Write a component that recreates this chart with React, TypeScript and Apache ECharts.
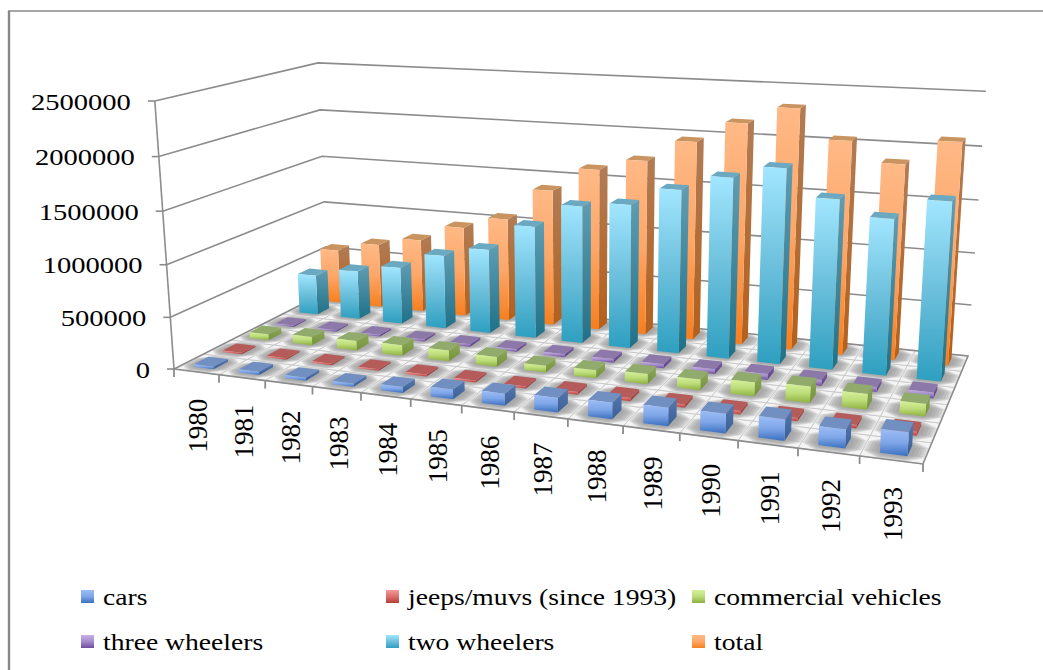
import React, { useEffect, useRef } from "react";
import * as echarts from "echarts";

// Annual Indian motor vehicle output, 1980-1993, as a perspective bar block.
const years = ["1980","1981","1982","1983","1984","1985","1986","1987","1988","1989","1990","1991","1992","1993"];
const yTicks = [0, 500000, 1000000, 1500000, 2000000, 2500000];
const cars = [25000,30000,30000,30000,55000,90000,110000,130000,146000,163000,170000,185000,160000,200000];
const jeeps = [15000,15000,15000,15000,20000,20000,20000,25000,30000,30000,30000,30000,30000,35000];
const commercial = [60000,85000,95000,105000,105000,95000,65000,75000,95000,100000,130000,150000,140000,110000];
const threeWheelers = [15000,16000,18000,20000,25000,25000,30000,35000,40000,45000,55000,55000,45000,55000];
const twoWheelers = [415000,504000,582000,749000,850000,1121000,1358000,1406000,1583000,1730000,1850000,1598000,1455000,1648000];
const totals = [570000,670000,760000,930000,1055000,1382000,1623000,1740000,1954000,2155000,2320000,2044000,1858000,2090000];

const W = 1043;
const H = 670;
const ROWS = 6;
const BAR_W = 0.44;
const BAR_D = 0.5;
const GREY = "#8c8c8c";
const SERIF = "Liberation Serif";

type Pt = [number, number];
type Quad = [Pt, Pt, Pt, Pt];

// Floor corners in the order front-left, front-right, back-right, back-left.
const floorQuad: Quad = [[174, 369], [923, 464], [968, 356], [328, 291]];
// Tops of the walls, with the floor position (u, v) each stands on.
const wallTops: [number, number, number, number][] = [
  [157, 102, 0, 0],
  [316, 58, 0, 1],
  [986, 96, 1, 1],
];

// Projective camera: the floor homography, extended along the value axis.
function buildCamera(q: Quad) {
  const [[x0, y0], [x1, y1], [x2, y2], [x3, y3]] = q;
  const dx1 = x1 - x2, dx2 = x3 - x2, dx3 = x0 - x1 + x2 - x3;
  const dy1 = y1 - y2, dy2 = y3 - y2, dy3 = y0 - y1 + y2 - y3;
  const den = dx1 * dy2 - dx2 * dy1;
  const g = (dx3 * dy2 - dx2 * dy3) / den;
  const h = (dx1 * dy3 - dx3 * dy1) / den;
  const a = x1 - x0 + g * x1, b = x3 - x0 + h * x3;
  const d = y1 - y0 + g * y1, e = y3 - y0 + h * y3;

  // Least squares for the three value-axis terms, from the wall tops.
  const rows = wallTops.map(([X, Y, u, v]) => {
    const n = g * u + h * v + 1;
    return { X, Y, rx: a * u + b * v + x0 - X * n, ry: d * u + e * v + y0 - Y * n };
  });
  const mean = (f: (r: any) => number) => rows.reduce((s, r) => s + f(r), 0) / rows.length;
  const mX = mean((r) => r.X), mY = mean((r) => r.Y), mRx = mean((r) => r.rx), mRy = mean((r) => r.ry);
  let num = 0, dn = 0;
  rows.forEach((r) => {
    num += (r.X - mX) * (r.rx - mRx) + (r.Y - mY) * (r.ry - mRy);
    dn += (r.X - mX) ** 2 + (r.Y - mY) ** 2;
  });
  const i = num / dn;
  const cx = mX * i - mRx;
  const cy = mY * i - mRy;
  return (u: number, v: number, w: number): Pt => {
    const n = g * u + h * v + i * w + 1;
    return [(a * u + b * v + cx * w + x0) / n, (d * u + e * v + cy * w + y0) / n];
  };
}
// u: along the years, v: depth through the rows, w: share of the value axis.
const project = buildCamera(floorQuad);

const vGrad = (stops: string[]) => ({
  type: "linear", x: 0, y: 0, x2: 0, y2: 1,
  colorStops: stops.map((color, i) => ({ offset: i / (stops.length - 1), color })),
});

const palettes = {
  total: { front: ["#ffb986", "#fda769", "#f67f1f"], side: ["#b17c55", "#b3601c"], top: "#c9945f" },
  two: { front: ["#a2e6ff", "#6cc0dc", "#2e9fc0"], side: ["#5f9db3", "#1f7188"], top: "#6aa9c1" },
  three: { front: ["#c7b0e6", "#a58bcb", "#6d4c9c"], side: ["#7a5da0", "#5f4488"], top: "#8d79a9" },
  commercial: { front: ["#d6f19b", "#bcdc78", "#8db041"], side: ["#8ea85a", "#73923a"], top: "#90ab6c" },
  jeeps: { front: ["#f59b99", "#dc6f6c", "#b83d39"], side: ["#b05653", "#9a403c"], top: "#b55b59" },
  cars: { front: ["#9cbdf6", "#7fa6e8", "#3a70bf"], side: ["#5578ad", "#3a5f98"], top: "#7190c1" },
};

// Position on the hidden cartesian axes, as shares of the plot.
function shares(api: any, i: number, value: number) {
  const p = api.coord([i, value]);
  return { u: p[0] / W, w: 1 - p[1] / H };
}

function barSeries(name: string, row: number, values: number[], pal: any) {
  return {
    type: "custom", name, z: 10 + (ROWS - row), silent: true,
    coordinateSystem: "cartesian2d",
    encode: { x: 0, y: 1 },
    data: values.map((v, i) => [i, v]),
    renderItem: (_p: any, api: any) => {
      const { u, w } = shares(api, api.value(0), api.value(1));
      const du = (BAR_W / years.length) / 2;
      const vc = (row + 0.5) / ROWS;
      const dv = (BAR_D / ROWS) / 2;
      const [u0, u1, v0, v1] = [u - du, u + du, vc - dv, vc + dv];
      const A = project(u0, v0, 0), B = project(u1, v0, 0), C = project(u1, v1, 0);
      const A2 = project(u0, v0, w), B2 = project(u1, v0, w), C2 = project(u1, v1, w), D2 = project(u0, v1, w);
      return {
        type: "group",
        children: [
          { type: "polygon", shape: { points: [B, C, C2, B2] }, style: { fill: vGrad([pal.side[0], pal.side[1]]) } },
          { type: "polygon", shape: { points: [A2, B2, C2, D2] }, style: { fill: pal.top } },
          { type: "polygon", shape: { points: [A, B, B2, A2] }, style: { fill: vGrad(pal.front) } },
        ],
      };
    },
  };
}

// Back and side walls: a grid line per tick, with its tick mark and label.
const wallSeries = {
  type: "custom", name: "value axis", z: 1, silent: true,
  coordinateSystem: "cartesian2d",
  encode: { x: 0, y: 1 },
  data: yTicks.map((t) => [0, t]),
  renderItem: (_p: any, api: any) => {
    const { w } = shares(api, 0, api.value(1));
    const a = project(0, 0, w), b = project(0, 1, w), c = project(1, 1, w);
    const base = { stroke: GREY, lineWidth: 1.6, fill: "none" };
    const children: any[] = [
      { type: "text", x: a[0] - 24, y: a[1] + 1, scaleX: 1.19, style: { text: String(api.value(1)), fontSize: 24, fontFamily: SERIF, fill: "#000", align: "right", verticalAlign: "middle" } },
      { type: "line", shape: { x1: a[0] - 7, y1: a[1], x2: a[0], y2: a[1] }, style: base },
    ];
    if (api.value(1) > 0) {
      children.push({ type: "polyline", shape: { points: [a, b, c] }, style: base });
    }
    return { type: "group", children };
  },
};

const spineSeries = {
  type: "custom", name: "axis spine", z: 1, silent: true,
  coordinateSystem: "cartesian2d",
  encode: { x: 0, y: 1 },
  data: [[0, 2500000]],
  renderItem: (_p: any, api: any) => {
    const { w } = shares(api, 0, api.value(1));
    const a = project(0, 0, 0), b = project(0, 0, w);
    return { type: "line", shape: { x1: a[0], y1: a[1], x2: b[0], y2: b[1] }, style: { stroke: GREY, lineWidth: 1.6 } };
  },
};

// Floor cells: stepped, chamfered insets give a soft grey pool in each cell,
// leaving pale bands between cells and white spots where they meet.
const floorSteps: [number, number, string][] = [
  [0.015, 0.26, "#dcdcdc"],
  [0.05, 0.24, "#cbcbcb"],
  [0.09, 0.21, "#bdbdbd"],
  [0.14, 0.17, "#b1b1b1"],
  [0.2, 0.12, "#a8a8a8"],
];
const cells: number[][] = [];
years.forEach((_y, i) => { for (let r = 0; r < ROWS; r++) cells.push([i, 0, r]); });
const floorSeries = {
  type: "custom", name: "floor", z: 2, silent: true,
  coordinateSystem: "cartesian2d",
  encode: { x: 0, y: 1 },
  data: cells,
  renderItem: (_p: any, api: any) => {
    const i = api.value(0), r = api.value(2);
    const du = 1 / years.length, dv = 1 / ROWS;
    const at = (cu: number, cv: number) => project((i + cu) * du, (r + cv) * dv, 0);
    const children: any[] = [
      {
        type: "polygon",
        shape: { points: [at(0, 0), at(1, 0), at(1, 1), at(0, 1)] },
        style: { fill: "#f4f4f4", stroke: "#c4c4c4", lineWidth: 0.8 },
      },
    ];
    floorSteps.forEach(([t, c, fill]) => {
      const [a, b] = [t, 1 - t];
      children.push({
        type: "polygon",
        shape: {
          points: [
            at(a + c, a), at(b - c, a), at(b, a + c), at(b, b - c),
            at(b - c, b), at(a + c, b), at(a, b - c), at(a, a + c),
          ],
        },
        style: { fill },
      });
    });
    return { type: "group", children };
  },
};

const floorEdgeSeries = {
  type: "custom", name: "floor edge", z: 3, silent: true,
  coordinateSystem: "cartesian2d",
  encode: { x: 0, y: 1 },
  data: [[0, 0]],
  renderItem: () => {
    const fl = project(0, 0, 0), fr = project(1, 0, 0), br = project(1, 1, 0), bl = project(0, 1, 0);
    return {
      type: "polygon",
      shape: { points: [fl, fr, br, bl] },
      style: { fill: "none", stroke: GREY, lineWidth: 1.6 },
    };
  },
};

// Year ticks under the front edge and the upright year labels.
const yearAxisSeries = {
  type: "custom", name: "year axis", z: 3, silent: true,
  coordinateSystem: "cartesian2d",
  encode: { x: 0, y: 1 },
  data: [...years, ""].map((_y, i) => [i, 0]),
  renderItem: (_p: any, api: any) => {
    const i = api.value(0);
    const t = project(i / years.length, 0, 0);
    const children: any[] = [
      { type: "line", shape: { x1: t[0], y1: t[1], x2: t[0], y2: t[1] + 8 }, style: { stroke: GREY, lineWidth: 1.8 } },
    ];
    if (i < years.length) {
      const m = project((i + 0.5) / years.length, 0, 0);
      children.push({
        type: "text", x: m[0] + 2, y: m[1] + 54, rotation: Math.PI / 2,
        style: { text: years[i], fontSize: 27, fontFamily: SERIF, fill: "#000", align: "center", verticalAlign: "middle" },
      });
    }
    return { type: "group", children };
  },
};

const legendItems: [string, string[]][] = [
  ["cars", palettes.cars.front],
  ["jeeps/muvs (since 1993)", palettes.jeeps.front],
  ["commercial vehicles", palettes.commercial.front],
  ["three wheelers", palettes.three.front],
  ["two wheelers", palettes.two.front],
  ["total", palettes.total.front],
];
const legendCols = [81, 386, 692];
const legendRows = [597, 642];

const graphics: any[] = [
  { type: "line", shape: { x1: 9, y1: 670, x2: 9, y2: 11 }, style: { stroke: "#888", lineWidth: 2.4 } },
  { type: "line", shape: { x1: 8, y1: 11, x2: 1043, y2: 11 }, style: { stroke: "#888", lineWidth: 1.4 } },
];
legendItems.forEach(([label, stops], n) => {
  const x = legendCols[n % 3];
  const y = legendRows[Math.floor(n / 3)];
  graphics.push({ type: "rect", shape: { x, y: y - 7, width: 13, height: 13 }, style: { fill: vGrad(stops) } });
  graphics.push({
    type: "text", x: x + 22, y, scaleX: 1.15,
    style: { text: label, fontSize: 24, fontFamily: SERIF, fill: "#000", align: "left", verticalAlign: "middle" },
  });
});

export default function App() {
  const ref = useRef<HTMLDivElement>(null);
  useEffect(() => {
    document.body.style.margin = "0";
    const chart = echarts.init(ref.current!, undefined, { renderer: "svg" });
    chart.setOption({
      animation: false,
      backgroundColor: "#ffffff",
      grid: { left: 0, top: 0, width: W, height: H, containLabel: false },
      xAxis: { type: "category", data: years, show: false },
      yAxis: { type: "value", min: 0, max: 2500000, interval: 500000, show: false },
      graphic: { elements: graphics },
      series: [
        wallSeries,
        spineSeries,
        floorSeries,
        floorEdgeSeries,
        yearAxisSeries,
        barSeries("total", 5, totals, palettes.total),
        barSeries("two wheelers", 4, twoWheelers, palettes.two),
        barSeries("three wheelers", 3, threeWheelers, palettes.three),
        barSeries("commercial vehicles", 2, commercial, palettes.commercial),
        barSeries("jeeps/muvs (since 1993)", 1, jeeps, palettes.jeeps),
        barSeries("cars", 0, cars, palettes.cars),
      ],
    });
    return () => chart.dispose();
  }, []);
  return <div ref={ref} style={{ width: W, height: H }} />;
}
